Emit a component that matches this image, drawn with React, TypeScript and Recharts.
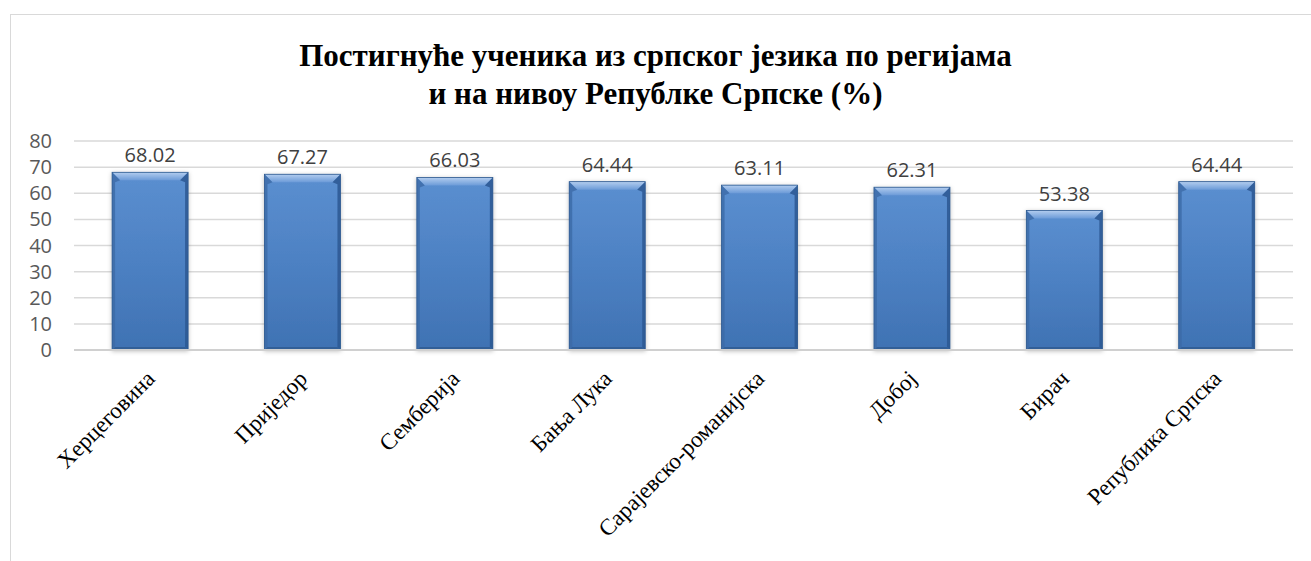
import React from 'react';
import { BarChart, Bar, XAxis, YAxis, CartesianGrid, LabelList } from 'recharts';

// Постигнуће по регијама (%)
const regions = [
  'Херцеговина',
  'Приједор',
  'Семберија',
  'Бања Лука',
  'Сарајевско-романијска',
  'Добој',
  'Бирач',
  'Република Српска',
];
const scores = [68.02, 67.27, 66.03, 64.44, 63.11, 62.31, 53.38, 64.44];
const yTicks = [0, 10, 20, 30, 40, 50, 60, 70, 80];

const titleLines = [
  'Постигнуће ученика из српског језика по регијама',
  'и на нивоу Републке Српске (%)',
];

const data = regions.map((name, i) => ({ name, value: scores[i] }));

function BevelBar(props: any) {
  const { x, y, width: w, height: h } = props;
  if (!w || !h) return null;
  const b = Math.min(8, h / 2);
  const s = 3;
  return (
    <g filter="url(#barShadow)">
      <rect x={x} y={y} width={w} height={h} fill="url(#faceGrad)" />
      <polygon
        points={`${x},${y} ${x + w},${y} ${x + w - b},${y + b} ${x + b},${y + b}`}
        fill="url(#topGrad)"
      />
      <polygon
        points={`${x},${y} ${x + b},${y + b} ${x + s},${y + b + 2} ${x + s},${y + h - s} ${x},${y + h}`}
        fill="#3c6aa6"
        opacity={0.8}
      />
      <polygon
        points={`${x + w},${y} ${x + w},${y + h} ${x + w - s},${y + h - s} ${x + w - s},${y + b + 2} ${x + w - b},${y + b}`}
        fill="#2b5792"
        opacity={0.85}
      />
      <polygon
        points={`${x},${y + h} ${x + s},${y + h - s} ${x + w - s},${y + h - s} ${x + w},${y + h}`}
        fill="#2d5a90"
        opacity={0.8}
      />
      <rect x={x} y={y} width={w} height={h} fill="none" stroke="#2f5a8f" strokeWidth={0.8} />
    </g>
  );
}

function RotatedTick(props: any) {
  const { x, y, payload } = props;
  const ax = x + 6;
  const ay = y + 22;
  return (
    <text
      x={ax}
      y={ay}
      transform={`rotate(-45, ${ax}, ${ay})`}
      textAnchor="end"
      fontFamily="'Liberation Serif', 'Times New Roman', serif"
      fontSize={23}
      fill="#000"
    >
      {payload.value}
    </text>
  );
}

export default function App() {
  return (
    <div style={{ position: 'absolute', left: 0, top: 0, width: 1311, height: 561, background: '#fff', overflow: 'hidden' }}>
      <div
        style={{
          position: 'absolute',
          left: 10,
          top: 14,
          width: 1320,
          height: 600,
          border: '1.5px solid #d9d9d9',
          boxSizing: 'border-box',
        }}
      />
      <div
        style={{
          position: 'absolute',
          left: 0,
          top: 37,
          width: 1311,
          textAlign: 'center',
          fontFamily: "'Liberation Serif', 'Times New Roman', serif",
          fontWeight: 'bold',
          fontSize: 31,
          lineHeight: '38px',
          color: '#000',
        }}
      >
        {titleLines.map((t) => (
          <div key={t}>{t}</div>
        ))}
      </div>
      <div style={{ position: 'absolute', left: 0, top: 0 }}>
        <BarChart
          width={1311}
          height={561}
          data={data}
          margin={{ top: 141, right: 18, bottom: 0, left: 22 }}
          barCategoryGap="25%"
        >
          <defs>
            <linearGradient id="faceGrad" x1="0" y1="0" x2="0" y2="1">
              <stop offset="0%" stopColor="#5b8fd0" />
              <stop offset="50%" stopColor="#4d81c3" />
              <stop offset="100%" stopColor="#3f72b3" />
            </linearGradient>
            <linearGradient id="topGrad" x1="0" y1="0" x2="0" y2="1">
              <stop offset="0%" stopColor="#b3cdef" />
              <stop offset="100%" stopColor="#6c9bd8" />
            </linearGradient>
            <filter id="barShadow" x="-20%" y="-10%" width="140%" height="120%">
              <feDropShadow dx="0" dy="1" stdDeviation="2" floodColor="#000" floodOpacity="0.25" />
            </filter>
          </defs>
          <CartesianGrid vertical={false} stroke="#d9d9d9" strokeWidth={1.5} />
          <XAxis
            dataKey="name"
            axisLine={{ stroke: '#d0d0d0', strokeWidth: 2 }}
            tickLine={false}
            interval={0}
            height={211}
            tick={<RotatedTick />}
          />
          <YAxis
            domain={[0, 80]}
            ticks={yTicks}
            interval={0}
            axisLine={false}
            tickLine={false}
            width={52}
            tickMargin={16}
            tick={{ fontFamily: "'Open Sans', sans-serif", fontSize: 20, fill: '#595959' }}
          />
          <Bar dataKey="value" shape={<BevelBar />} isAnimationActive={false}>
            <LabelList
              dataKey="value"
              position="top"
              offset={10}
              formatter={(v: any) => Number(v).toFixed(2)}
              style={{ fontFamily: "'Open Sans', sans-serif", fontSize: 20, fill: '#404040' }}
            />
          </Bar>
        </BarChart>
      </div>
    </div>
  );
}
